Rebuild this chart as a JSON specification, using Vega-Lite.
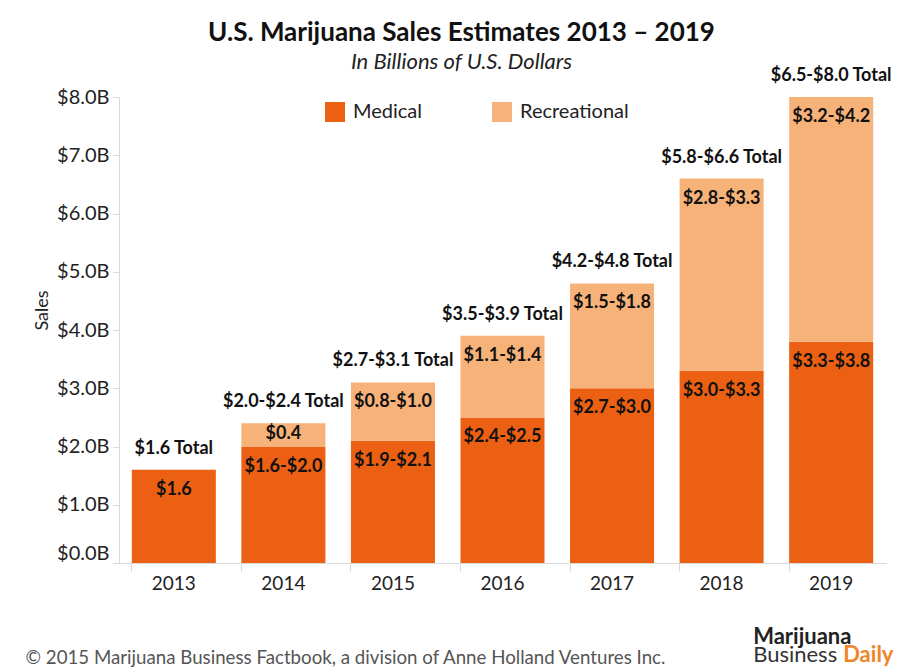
{
  "$schema": "https://vega.github.io/schema/vega-lite/v6.json",
  "autosize": {"type": "none"},
  "padding": {"left": 119, "top": 97, "right": 17, "bottom": 108},
  "width": 767,
  "height": 466,
  "background": "white",
  "title": {
    "text": "U.S. Marijuana Sales Estimates 2013 – 2019",
    "subtitle": "In Billions of U.S. Dollars",
    "anchor": "middle",
    "frame": "group",
    "dx": -41,
    "offset": -6,
    "font": "Lato",
    "fontSize": 26,
    "fontWeight": "bold",
    "color": "#111111",
    "subtitleFont": "Lato",
    "subtitleFontSize": 22,
    "subtitleFontStyle": "italic",
    "subtitleColor": "#222222",
    "subtitlePadding": 6
  },
  "datasets": {
    "sales": [
      {"year": "2013", "type": "Medical", "value": 1.6, "label": "$1.6"},
      {"year": "2014", "type": "Medical", "value": 2.0, "label": "$1.6-$2.0"},
      {"year": "2014", "type": "Recreational", "value": 0.4, "label": "$0.4"},
      {"year": "2015", "type": "Medical", "value": 2.1, "label": "$1.9-$2.1"},
      {"year": "2015", "type": "Recreational", "value": 1.0, "label": "$0.8-$1.0"},
      {"year": "2016", "type": "Medical", "value": 2.5, "label": "$2.4-$2.5"},
      {"year": "2016", "type": "Recreational", "value": 1.4, "label": "$1.1-$1.4"},
      {"year": "2017", "type": "Medical", "value": 3.0, "label": "$2.7-$3.0"},
      {"year": "2017", "type": "Recreational", "value": 1.8, "label": "$1.5-$1.8"},
      {"year": "2018", "type": "Medical", "value": 3.3, "label": "$3.0-$3.3"},
      {"year": "2018", "type": "Recreational", "value": 3.3, "label": "$2.8-$3.3"},
      {"year": "2019", "type": "Medical", "value": 3.8, "label": "$3.3-$3.8"},
      {"year": "2019", "type": "Recreational", "value": 4.2, "label": "$3.2-$4.2"}
    ],
    "totals": [
      {"year": "2013", "total": 1.6, "label": "$1.6 Total"},
      {"year": "2014", "total": 2.4, "label": "$2.0-$2.4 Total"},
      {"year": "2015", "total": 3.1, "label": "$2.7-$3.1 Total"},
      {"year": "2016", "total": 3.9, "label": "$3.5-$3.9 Total"},
      {"year": "2017", "total": 4.8, "label": "$4.2-$4.8 Total"},
      {"year": "2018", "total": 6.6, "label": "$5.8-$6.6 Total"},
      {"year": "2019", "total": 8.0, "label": "$6.5-$8.0 Total"}
    ]
  },
  "encoding": {
    "x": {
      "field": "year",
      "type": "nominal",
      "sort": ["2013", "2014", "2015", "2016", "2017", "2018", "2019"],
      "scale": {"paddingInner": 0.233, "paddingOuter": 0.117},
      "axis": {
        "title": "© 2015 Marijuana Business Factbook, a division of Anne Holland Ventures Inc.",
        "titleFont": "Lato",
        "titleFontSize": 18.7,
        "titleFontWeight": "normal",
        "titleColor": "#555555",
        "titleAnchor": "start",
        "titleAlign": "left",
        "titleBaseline": "middle",
        "titleX": -94,
        "titleY": 94,
        "labelAngle": 0,
        "labelFont": "Lato",
        "labelFontSize": 19,
        "labelColor": "#222222",
        "labelPadding": 3,
        "bandPosition": 0,
        "tickSize": 8,
        "tickColor": "#d9d9d9",
        "domainColor": "#d9d9d9",
        "grid": false
      }
    }
  },
  "layer": [
    {
      "data": {"name": "sales"},
      "transform": [
        {"stack": "value", "groupby": ["year"], "sort": [{"field": "type", "order": "ascending"}], "as": ["v0", "v1"]}
      ],
      "mark": {"type": "bar"},
      "encoding": {
        "y": {
          "field": "v1",
          "type": "quantitative",
          "scale": {"domain": [0, 8], "nice": false},
          "axis": {
            "title": "Sales",
            "titleFont": "Lato",
            "titleFontSize": 18,
            "titleFontWeight": "normal",
            "titleColor": "#222222",
            "titleX": -77,
            "titleY": 213,
            "titleAngle": 270,
            "titleAlign": "center",
            "titleBaseline": "middle",
            "values": [0, 1, 2, 3, 4, 5, 6, 7, 8],
            "labelExpr": "'$' + format(datum.value, '.1f') + 'B'",
            "labelFont": "Lato",
            "labelFontSize": 20,
            "labelColor": "#222222",
            "labelPadding": 4,
            "labelBaseline": {"condition": {"test": "datum.value === 0", "value": "bottom"}, "value": "middle"},
            "tickSize": 6,
            "tickColor": "#d9d9d9",
            "domainColor": "#d9d9d9",
            "grid": false
          }
        },
        "y2": {"field": "v0"},
        "color": {
          "field": "type",
          "type": "nominal",
          "scale": {"domain": ["Medical", "Recreational"], "range": ["#EB6012", "#F7B27A"]},
          "legend": {
            "title": null,
            "orient": "none",
            "legendX": 206,
            "legendY": 5,
            "direction": "horizontal",
            "columns": 2,
            "symbolType": "square",
            "symbolSize": 400,
            "symbolStrokeWidth": 0,
            "symbolOpacity": 1,
            "labelFont": "Lato",
            "labelFontSize": 20,
            "labelColor": "#222222",
            "labelOffset": 8,
            "columnPadding": 69,
            "columnSpacing": 69
          }
        }
      }
    },
    {
      "data": {"name": "sales"},
      "transform": [
        {"stack": "value", "groupby": ["year"], "sort": [{"field": "type", "order": "ascending"}], "as": ["v0", "v1"]},
        {"filter": "datum.year !== '2014' || datum.type !== 'Recreational'"}
      ],
      "mark": {"type": "text", "font": "Lato", "fontSize": 18, "fontWeight": "bold", "color": "#111111", "baseline": "middle", "dy": 20},
      "encoding": {
        "y": {"field": "v1", "type": "quantitative"},
        "text": {"field": "label"}
      }
    },
    {
      "data": {"name": "sales"},
      "transform": [
        {"stack": "value", "groupby": ["year"], "sort": [{"field": "type", "order": "ascending"}], "as": ["v0", "v1"]},
        {"filter": "datum.year === '2014' && datum.type === 'Recreational'"}
      ],
      "mark": {"type": "text", "font": "Lato", "fontSize": 18, "fontWeight": "bold", "color": "#111111", "baseline": "middle", "dy": 11},
      "encoding": {
        "y": {"field": "v1", "type": "quantitative"},
        "text": {"field": "label"}
      }
    },
    {
      "data": {"name": "totals"},
      "mark": {"type": "text", "font": "Lato", "fontSize": 18, "fontWeight": "bold", "color": "#111111", "baseline": "middle", "dy": -21},
      "encoding": {
        "y": {"field": "total", "type": "quantitative"},
        "text": {"field": "label"}
      }
    },
    {
      "data": {"values": [{"t": "Marijuana"}]},
      "mark": {"type": "text", "font": "Lato", "fontSize": 22, "fontWeight": "bold", "color": "#222222", "align": "left", "baseline": "alphabetic", "dx": -78},
      "encoding": {
        "x": {"datum": "2019"},
        "y": {"datum": -1.39},
        "text": {"field": "t"}
      }
    },
    {
      "data": {"values": [{"t": "Business"}]},
      "mark": {"type": "text", "font": "Lato", "fontSize": 22, "fontWeight": "normal", "color": "#333333", "align": "left", "baseline": "alphabetic", "dx": -78},
      "encoding": {
        "x": {"datum": "2019"},
        "y": {"datum": -1.70},
        "text": {"field": "t"}
      }
    },
    {
      "data": {"values": [{"t": "Daily"}]},
      "mark": {"type": "text", "font": "Lato", "fontSize": 22, "fontWeight": "bold", "color": "#F0862A", "align": "left", "baseline": "alphabetic", "dx": 12},
      "encoding": {
        "x": {"datum": "2019"},
        "y": {"datum": -1.70},
        "text": {"field": "t"}
      }
    }
  ],
  "config": {
    "view": {"stroke": null},
    "font": "Lato"
  }
}
